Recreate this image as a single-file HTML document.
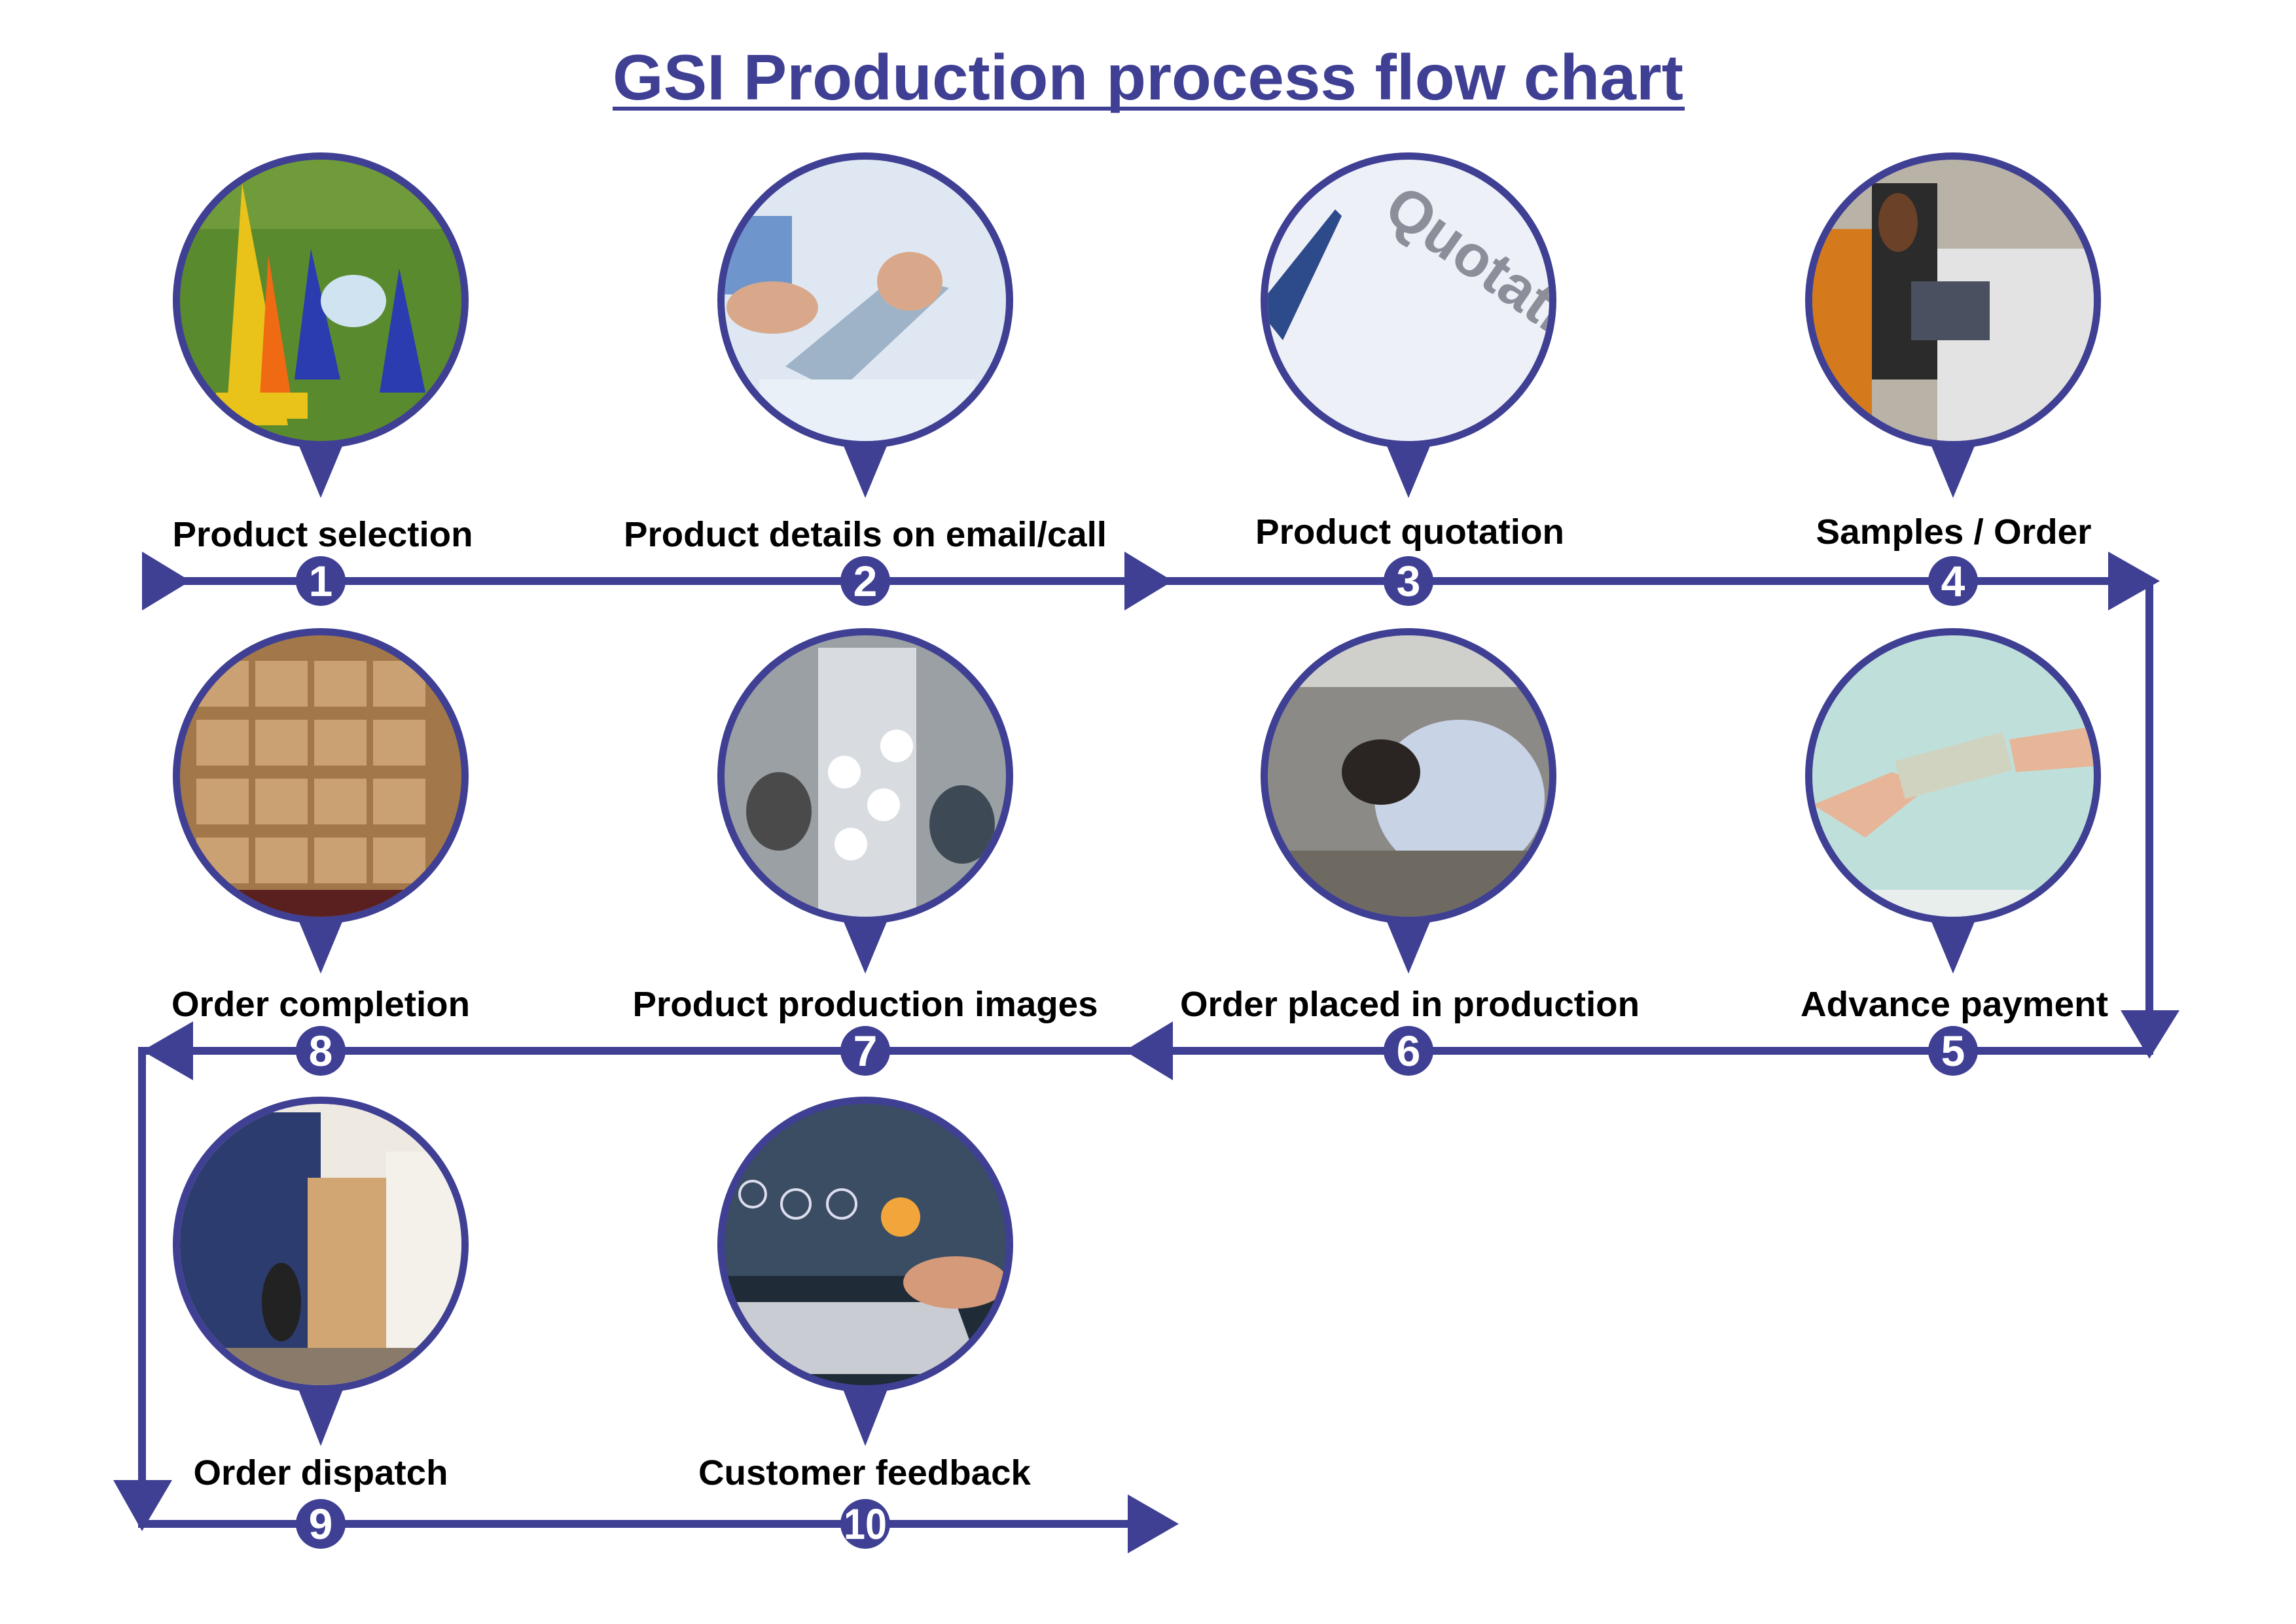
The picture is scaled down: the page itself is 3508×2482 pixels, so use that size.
<!DOCTYPE html>
<html><head><meta charset="utf-8"><style>
html,body{margin:0;padding:0;background:#fff}
svg{display:block}
text{font-family:"Liberation Sans",Arial,sans-serif;font-weight:bold}
</style></head><body>
<svg width="3508" height="2482" viewBox="0 0 3508 2482" xmlns="http://www.w3.org/2000/svg">
<defs>
<clipPath id="c1"><circle cx="490" cy="459" r="215"/></clipPath>
<clipPath id="c2"><circle cx="1322" cy="459" r="215"/></clipPath>
<clipPath id="c3"><circle cx="2152" cy="459" r="215"/></clipPath>
<clipPath id="c4"><circle cx="2984" cy="459" r="215"/></clipPath>
<clipPath id="c5"><circle cx="490" cy="1186" r="215"/></clipPath>
<clipPath id="c6"><circle cx="1322" cy="1186" r="215"/></clipPath>
<clipPath id="c7"><circle cx="2152" cy="1186" r="215"/></clipPath>
<clipPath id="c8"><circle cx="2984" cy="1186" r="215"/></clipPath>
<clipPath id="c9"><circle cx="490" cy="1902" r="215"/></clipPath>
<clipPath id="c10"><circle cx="1322" cy="1902" r="215"/></clipPath>
</defs>

<!-- title -->
<text x="1754" y="152" text-anchor="middle" font-size="98" fill="#3f3f94" textLength="1636" lengthAdjust="spacingAndGlyphs">GSI Production process flow chart</text>
<rect x="936" y="163" width="1638" height="6" fill="#3f3f94"/>

<g fill="#3f3f94">
<!-- pins -->
<polygon points="448,660 532,660 490,761"/>
<polygon points="1280,660 1364,660 1322,761"/>
<polygon points="2110,660 2194,660 2152,761"/>
<polygon points="2942,660 3026,660 2984,761"/>
<polygon points="448,1387 532,1387 490,1488"/>
<polygon points="1280,1387 1364,1387 1322,1488"/>
<polygon points="2110,1387 2194,1387 2152,1488"/>
<polygon points="2942,1387 3026,1387 2984,1488"/>
<polygon points="448,2103 532,2103 490,2210"/>
<polygon points="1280,2103 1364,2103 1322,2210"/>
<!-- circle bg -->
<circle cx="490" cy="459" r="226"/><circle cx="1322" cy="459" r="226"/><circle cx="2152" cy="459" r="226"/><circle cx="2984" cy="459" r="226"/>
<circle cx="490" cy="1186" r="226"/><circle cx="1322" cy="1186" r="226"/><circle cx="2152" cy="1186" r="226"/><circle cx="2984" cy="1186" r="226"/>
<circle cx="490" cy="1902" r="226"/><circle cx="1322" cy="1902" r="226"/>

<!-- lines -->
<rect x="224" y="882" width="3066" height="12"/>
<rect x="3278" y="882" width="12" height="700"/>
<rect x="217" y="1600" width="3073" height="12"/>
<rect x="211" y="1600" width="12" height="700"/>
<rect x="211" y="2323" width="1560" height="12"/>
<!-- arrowheads -->
<polygon points="217,843 291,888 217,933"/>
<polygon points="1718,843 1792,888 1718,933"/>
<polygon points="3221,843 3300,888 3221,933"/>
<polygon points="3240,1544 3330,1544 3284,1618"/>
<polygon points="1792,1561 1718,1606 1792,1651"/>
<polygon points="295,1561 217,1606 295,1651"/>
<polygon points="173,2262 263,2262 217,2340"/>
<polygon points="1723,2284 1801,2329 1723,2374"/>
<!-- number circles -->
<circle cx="490" cy="888" r="38"/><circle cx="1322" cy="888" r="38"/><circle cx="2152" cy="888" r="38"/><circle cx="2984" cy="888" r="38"/>
<circle cx="2984" cy="1606" r="38"/><circle cx="2152" cy="1606" r="38"/><circle cx="1322" cy="1606" r="38"/><circle cx="490" cy="1606" r="38"/>
<circle cx="490" cy="2329" r="38"/><circle cx="1322" cy="2329" r="38"/>
</g>

<!-- images approximations -->
<g clip-path="url(#c1)"><rect x="260" y="230" width="460" height="460" fill="#5a8a2e"/><rect x="260" y="230" width="460" height="120" fill="#6f9b3a"/>
<polygon points="370,280 345,650 440,650" fill="#e9c21a"/><polygon points="410,390 395,640 450,640" fill="#f06a14"/><polygon points="475,380 450,580 520,580" fill="#2a3cb0"/><polygon points="610,410 580,600 650,600" fill="#2a3cb0"/><ellipse cx="540" cy="460" rx="50" ry="40" fill="#cfe3f0"/><rect x="330" y="600" width="140" height="40" fill="#e9c21a"/></g>
<g clip-path="url(#c2)"><rect x="1090" y="230" width="470" height="460" fill="#dfe8f2"/><rect x="1090" y="330" width="120" height="120" fill="#6e95cc"/><polygon points="1200,560 1370,420 1450,440 1280,600" fill="#9fb3c8"/><ellipse cx="1180" cy="470" rx="70" ry="40" fill="#d9a88a"/><ellipse cx="1390" cy="430" rx="50" ry="45" fill="#d9a88a"/><rect x="1160" y="580" width="330" height="110" fill="#eaf0f7"/></g>
<g clip-path="url(#c3)"><rect x="1920" y="230" width="470" height="460" fill="#eef0f7"/><text x="2110" y="330" font-size="90" fill="#8c8f99" font-weight="normal" transform="rotate(35 2110 330)">Quotati</text><polygon points="1920,470 2040,320 2050,330 1960,520" fill="#2d4a8a"/></g>
<g clip-path="url(#c4)"><rect x="2750" y="230" width="470" height="460" fill="#b9b2a6"/><rect x="2750" y="350" width="110" height="340" fill="#d57a1c"/><rect x="2860" y="280" width="100" height="300" fill="#2b2b2b"/><rect x="2960" y="380" width="260" height="310" fill="#e3e3e3"/><rect x="2920" y="430" width="120" height="90" fill="#4a5060"/><ellipse cx="2900" cy="340" rx="30" ry="45" fill="#6b4128"/></g>
<g clip-path="url(#c5)"><rect x="260" y="960" width="460" height="460" fill="#a2784a"/><g fill="#c9a173"><rect x="300" y="1010" width="80" height="70"/><rect x="390" y="1010" width="80" height="70"/><rect x="480" y="1010" width="80" height="70"/><rect x="570" y="1010" width="80" height="70"/><rect x="300" y="1100" width="80" height="70"/><rect x="390" y="1100" width="80" height="70"/><rect x="480" y="1100" width="80" height="70"/><rect x="570" y="1100" width="80" height="70"/><rect x="300" y="1190" width="80" height="70"/><rect x="390" y="1190" width="80" height="70"/><rect x="480" y="1190" width="80" height="70"/><rect x="570" y="1190" width="80" height="70"/><rect x="300" y="1280" width="80" height="70"/><rect x="390" y="1280" width="80" height="70"/><rect x="480" y="1280" width="80" height="70"/><rect x="570" y="1280" width="80" height="70"/></g><rect x="260" y="1360" width="460" height="60" fill="#5a2020"/></g>
<g clip-path="url(#c6)"><rect x="1090" y="960" width="470" height="460" fill="#9aa0a4"/><rect x="1250" y="990" width="150" height="420" fill="#d8dbe0"/><circle cx="1290" cy="1180" r="25" fill="#fff"/><circle cx="1350" cy="1230" r="25" fill="#fff"/><circle cx="1300" cy="1290" r="25" fill="#fff"/><circle cx="1370" cy="1140" r="25" fill="#fff"/><ellipse cx="1190" cy="1240" rx="50" ry="60" fill="#4a4a4a"/><ellipse cx="1470" cy="1260" rx="50" ry="60" fill="#3d4a55"/></g>
<g clip-path="url(#c7)"><rect x="1920" y="960" width="470" height="460" fill="#8b8a86"/><rect x="1920" y="960" width="470" height="90" fill="#cfd0cc"/><ellipse cx="2230" cy="1220" rx="130" ry="120" fill="#c9d3e6"/><ellipse cx="2110" cy="1180" rx="60" ry="50" fill="#2a2522"/><rect x="1950" y="1300" width="400" height="120" fill="#6e6a62"/></g>
<g clip-path="url(#c8)"><rect x="2750" y="960" width="470" height="460" fill="#bfe0da"/><polygon points="2770,1230 2890,1180 2950,1200 2850,1280" fill="#e7b598"/><polygon points="3070,1130 3200,1110 3210,1170 3080,1180" fill="#e7b598"/><rect x="2900" y="1140" width="170" height="60" fill="#cfd3c0" transform="rotate(-15 2985 1170)"/><rect x="2750" y="1360" width="470" height="60" fill="#e8eeec"/></g>
<g clip-path="url(#c9)"><rect x="260" y="1676" width="460" height="460" fill="#eeeae2"/><rect x="260" y="1700" width="230" height="400" fill="#2c3c6e"/><rect x="470" y="1800" width="120" height="260" fill="#d2a672"/><rect x="590" y="1760" width="130" height="300" fill="#f3f1ea"/><rect x="260" y="2060" width="460" height="80" fill="#8a7a6a"/><ellipse cx="430" cy="1990" rx="30" ry="60" fill="#222"/></g>
<g clip-path="url(#c10)"><rect x="1090" y="1676" width="470" height="460" fill="#3a4d63"/><rect x="1090" y="1950" width="470" height="190" fill="#1f2b36"/><polygon points="1110,1990 1460,1990 1500,2100 1150,2100" fill="#c9ccd2"/><circle cx="1376" cy="1860" r="30" fill="#f2a53a"/><circle cx="1286" cy="1840" r="22" fill="none" stroke="#dde" stroke-width="4"/><circle cx="1216" cy="1840" r="22" fill="none" stroke="#dde" stroke-width="4"/><circle cx="1150" cy="1825" r="20" fill="none" stroke="#dde" stroke-width="4"/><ellipse cx="1460" cy="1960" rx="80" ry="40" fill="#d49a7a"/></g>

<!-- numbers -->
<g fill="#fff" font-size="66" text-anchor="middle">
<text x="490" y="911">1</text><text x="1322" y="911">2</text><text x="2152" y="911">3</text><text x="2984" y="911">4</text>
<text x="2984" y="1629">5</text><text x="2152" y="1629">6</text><text x="1322" y="1629">7</text><text x="490" y="1629">8</text>
<text x="490" y="2352">9</text><text x="1322" y="2352" textLength="66" lengthAdjust="spacingAndGlyphs">10</text>
</g>

<!-- labels -->
<g fill="#000" font-size="54" text-anchor="middle" lengthAdjust="spacingAndGlyphs">
<text x="493" y="835" textLength="459" lengthAdjust="spacingAndGlyphs">Product selection</text>
<text x="1322" y="835" textLength="738" lengthAdjust="spacingAndGlyphs">Product details on email/call</text>
<text x="2154" y="831" textLength="472" lengthAdjust="spacingAndGlyphs">Product quotation</text>
<text x="2985" y="831" textLength="421" lengthAdjust="spacingAndGlyphs">Samples / Order</text>
<text x="490" y="1553" textLength="456" lengthAdjust="spacingAndGlyphs">Order completion</text>
<text x="1322" y="1553" textLength="711" lengthAdjust="spacingAndGlyphs">Product production images</text>
<text x="2154" y="1553" textLength="702" lengthAdjust="spacingAndGlyphs">Order placed in production</text>
<text x="2986" y="1553" textLength="470" lengthAdjust="spacingAndGlyphs">Advance payment</text>
<text x="490" y="2269" textLength="389" lengthAdjust="spacingAndGlyphs">Order dispatch</text>
<text x="1321" y="2269" textLength="508" lengthAdjust="spacingAndGlyphs">Customer feedback</text>
</g>
</svg>
</body></html>
